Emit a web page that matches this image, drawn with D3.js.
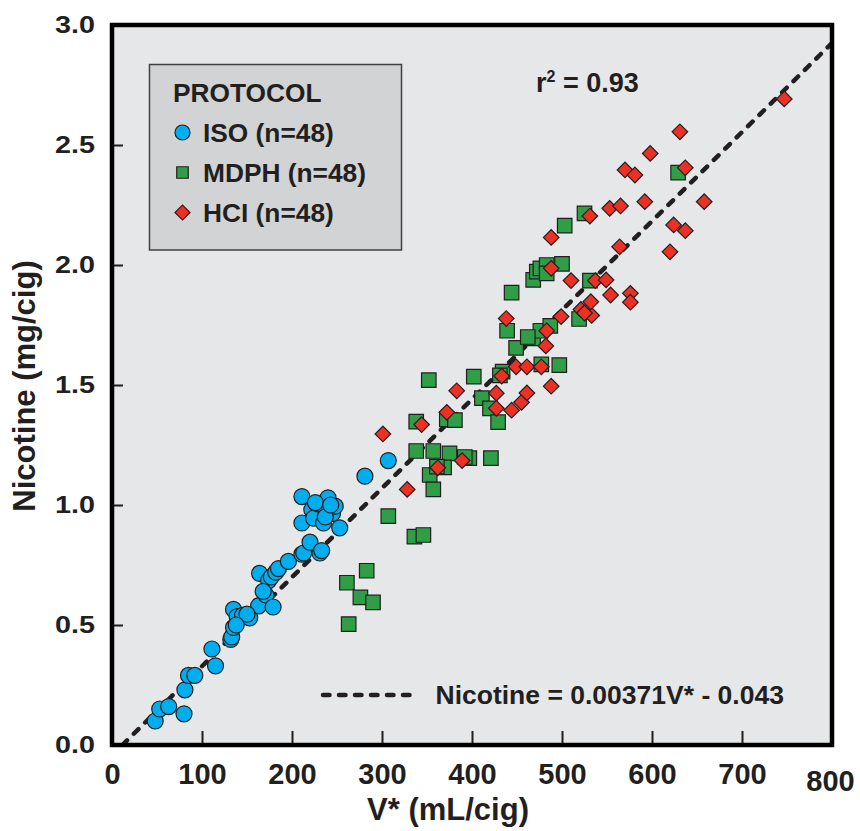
<!DOCTYPE html>
<html>
<head>
<meta charset="utf-8">
<script src="https://cdn.jsdelivr.net/npm/d3@7"></script>
<style>
    body { margin: 0; background: #fff; }
    svg text { font-family: "Liberation Sans", Arial, sans-serif; font-weight: bold; fill: #231f20; }
</style>
</head>
<body>
<div id="container"><svg></svg></div>
<script>
let width = 860;
let height = 831;

// V* (mL/cig), nicotine (mg/cig)
let iso_v = [48, 53, 63, 80, 81, 85, 92, 111, 115, 132, 133, 135, 135, 139, 145, 153, 163, 164, 171, 174,
    177, 179, 182, 185, 196, 211, 213, 220, 231, 233, 211, 222, 224, 229, 235, 240, 245, 248, 253, 211,
    226, 237, 243, 281, 307, 168, 150, 138];
let iso_n = [0.10, 0.15, 0.16, 0.13, 0.23, 0.29, 0.29, 0.40, 0.33, 0.44, 0.45, 0.49, 0.565, 0.535, 0.54, 0.53, 0.58, 0.715, 0.625, 0.685,
    0.70, 0.575, 0.72, 0.735, 0.765, 0.795, 0.80, 0.845, 0.80, 0.81, 0.925, 0.98, 0.945, 1.005, 0.925, 1.03, 0.965, 0.995, 0.905, 1.035,
    1.01, 0.95, 1.0, 1.12, 1.185, 0.64, 0.545, 0.50];

let mdph_v = [263, 261, 276, 290, 283, 307, 336, 346, 338, 357, 375, 353, 357, 369, 397, 421, 338, 372, 381, 352,
    402, 411, 420, 429, 434, 449, 468, 476, 487, 439, 477, 497, 519, 444, 468, 472, 476, 483, 483, 500,
    531, 503, 525, 629, 361, 462, 431, 392];
let mdph_n = [0.504, 0.676, 0.615, 0.594, 0.726, 0.954, 0.868, 0.875, 1.225, 1.225, 1.215, 1.125, 1.065, 1.157, 1.195, 1.195, 1.347, 1.357, 1.354, 1.52,
    1.535, 1.445, 1.403, 1.345, 1.556, 1.655, 1.694, 1.726, 1.746, 1.726, 1.586, 1.583, 1.775, 1.885, 1.938, 1.972, 1.986, 2.0, 1.965, 2.005,
    1.935, 2.164, 2.215, 2.385, 1.16, 1.70, 1.54, 1.20];

let hci_v = [301, 328, 344, 362, 372, 383, 389, 427, 427, 433, 444, 455, 461, 488, 449, 461, 477, 482, 483, 438,
    499, 521, 533, 532, 510, 488, 537, 549, 554, 576, 576, 488, 531, 553, 565, 592, 570, 581, 598, 631,
    637, 658, 624, 637, 620, 564, 747, 525];
let hci_n = [1.296, 1.065, 1.335, 1.155, 1.386, 1.476, 1.185, 1.466, 1.403, 1.537, 1.395, 1.428, 1.467, 1.495, 1.576, 1.576, 1.576, 1.663, 1.726, 1.777,
    1.785, 1.815, 1.79, 1.847, 1.935, 1.986, 1.935, 1.938, 1.875, 1.882, 1.845, 2.115, 2.204, 2.236, 2.246, 2.264, 2.396, 2.375, 2.465, 2.555,
    2.405, 2.264, 2.167, 2.143, 2.055, 2.076, 2.692, 1.80];

let fit_slope = 0.00371;
let fit_icpt = -0.043;

let x_ticks = [0, 100, 200, 300, 400, 500, 600, 700, 800];
let y_ticks = [0, 0.5, 1.0, 1.5, 2.0, 2.5, 3.0];

let protocols = ['ISO (n=48)', 'MDPH (n=48)', 'HCI (n=48)'];
let colors = ['#00aeef', '#2f9e47', '#ed3024'];

let svg = d3.select('#container').select('svg')
    .attr('width', width)
    .attr('height', height);

let x = d3.scaleLinear().domain([0, 800]).range([112, 832]);
let y = d3.scaleLinear().domain([0, 3]).range([745, 25]);

svg.append('defs').append('clipPath').attr('id', 'plotclip')
    .append('rect')
    .attr('x', x(0)).attr('y', y(3))
    .attr('width', x(800) - x(0)).attr('height', y(0) - y(3));

// plot background
svg.append('rect')
    .attr('x', x(0)).attr('y', y(3))
    .attr('width', x(800) - x(0)).attr('height', y(0) - y(3))
    .attr('fill', '#e6e7e8');

// ticks and labels
let yAxis = svg.append('g')
    .attr('transform', `translate(${x(0)},0)`)
    .call(d3.axisLeft(y).tickValues(y_ticks).tickSize(-11).tickPadding(17).tickFormat(d3.format('.1f')));
yAxis.select('.domain').remove();
yAxis.selectAll('line').attr('stroke', '#231f20').attr('stroke-width', 2);
yAxis.selectAll('text')
    .attr('font-size', 24)
    .attr('textLength', 40)
    .attr('lengthAdjust', 'spacingAndGlyphs')
    .attr('fill', '#231f20');

let xAxis = svg.append('g')
    .attr('transform', `translate(0,${y(0)})`)
    .call(d3.axisBottom(x).tickValues(x_ticks).tickSize(-14).tickPadding(18).tickFormat(d3.format('d')));
xAxis.select('.domain').remove();
xAxis.selectAll('line').attr('stroke', '#231f20').attr('stroke-width', 2)
    .attr('display', d => (d === 0 || d === 800) ? 'none' : null);
xAxis.selectAll('text')
    .attr('font-size', 29)
    .attr('fill', '#231f20');
xAxis.selectAll('.tick').filter(d => d === 800).select('text')
    .attr('y', 25).attr('x', -2);

// regression line
let v0 = -fit_icpt / fit_slope;
svg.append('line')
    .attr('clip-path', 'url(#plotclip)')
    .attr('x1', x(v0)).attr('y1', y(0))
    .attr('x2', x(800)).attr('y2', y(fit_slope * 800 + fit_icpt))
    .attr('stroke', '#231f20')
    .attr('stroke-width', 4.5)
    .attr('stroke-linecap', 'round')
    .attr('stroke-dasharray', '6.5,9.5');

// points
let iso = iso_v.map((v, i) => ({v: v, n: iso_n[i]}));
let mdph = mdph_v.map((v, i) => ({v: v, n: mdph_n[i]}));
let hci = hci_v.map((v, i) => ({v: v, n: hci_n[i]}));

svg.append('g')
    .selectAll('circle')
    .data(iso)
    .join('circle')
    .attr('cx', d => x(d.v))
    .attr('cy', d => y(d.n))
    .attr('r', 8)
    .attr('fill', colors[0])
    .attr('stroke', '#231f20')
    .attr('stroke-width', 1.2);

let sq = d3.symbol().type(d3.symbolSquare).size(14.5 * 14.5);
svg.append('g')
    .selectAll('path')
    .data(mdph)
    .join('path')
    .attr('d', sq)
    .attr('transform', d => `translate(${x(d.v)},${y(d.n)})`)
    .attr('fill', colors[1])
    .attr('stroke', '#231f20')
    .attr('stroke-width', 1.2);

let dia = d3.symbol().type(d3.symbolSquare).size(11 * 11);
svg.append('g')
    .selectAll('path')
    .data(hci)
    .join('path')
    .attr('d', dia)
    .attr('transform', d => `translate(${x(d.v)},${y(d.n)}) rotate(45)`)
    .attr('fill', colors[2])
    .attr('stroke', '#231f20')
    .attr('stroke-width', 1.2);

// frame
svg.append('rect')
    .attr('x', x(0)).attr('y', y(3))
    .attr('width', x(800) - x(0)).attr('height', y(0) - y(3))
    .attr('fill', 'none')
    .attr('stroke', '#000')
    .attr('stroke-width', 4.5);

// legend
let legend = svg.append('g');
legend.append('rect')
    .attr('x', 149.5).attr('y', 64.5)
    .attr('width', 252).attr('height', 185.5)
    .attr('fill', '#d1d3d4')
    .attr('stroke', '#414042')
    .attr('stroke-width', 1.5);
legend.append('text')
    .attr('x', 173).attr('y', 102)
    .attr('font-size', 26.3)
    .text('PROTOCOL');
let rows = legend.selectAll('g.row')
    .data(protocols)
    .join('g')
    .attr('class', 'row')
    .attr('transform', (d, i) => `translate(0,${142 + i * 40})`);
rows.append('text')
    .attr('x', 203).attr('y', 0)
    .attr('font-size', 26.3)
    .text(d => d);
rows.filter((d, i) => i === 0).append('circle')
    .attr('cx', 182.5).attr('cy', -9.5).attr('r', 7.5)
    .attr('fill', colors[0]).attr('stroke', '#231f20').attr('stroke-width', 1.2);
rows.filter((d, i) => i === 1).append('path')
    .attr('d', d3.symbol().type(d3.symbolSquare).size(11.5 * 11.5))
    .attr('transform', 'translate(182.5,-9.5)')
    .attr('fill', colors[1]).attr('stroke', '#231f20').attr('stroke-width', 1.2);
rows.filter((d, i) => i === 2).append('path')
    .attr('d', d3.symbol().type(d3.symbolSquare).size(10.6 * 10.6))
    .attr('transform', 'translate(182.5,-9.5) rotate(45)')
    .attr('fill', colors[2]).attr('stroke', '#231f20').attr('stroke-width', 1.2);

// r squared
let r2 = svg.append('text')
    .attr('x', 536).attr('y', 92)
    .attr('font-size', 27);
r2.append('tspan').text('r');
r2.append('tspan').attr('font-size', 16).attr('dy', -10).text('2');
r2.append('tspan').attr('dy', 10).text(' = 0.93');

// fit legend
svg.append('line')
    .attr('x1', 323).attr('y1', 695)
    .attr('x2', 410).attr('y2', 695)
    .attr('stroke', '#231f20')
    .attr('stroke-width', 4.5)
    .attr('stroke-linecap', 'round')
    .attr('stroke-dasharray', '6.5,9.5');
svg.append('text')
    .attr('x', 435.5).attr('y', 704)
    .attr('font-size', 26.5)
    .text('Nicotine = 0.00371V* - 0.043');

// axis titles
svg.append('text')
    .attr('x', 448).attr('y', 820)
    .attr('text-anchor', 'middle')
    .attr('font-size', 31)
    .text('V* (mL/cig)');
svg.append('text')
    .attr('transform', 'translate(35,386) rotate(-90)')
    .attr('text-anchor', 'middle')
    .attr('font-size', 31)
    .text('Nicotine (mg/cig)');
</script>
</body>
</html>
